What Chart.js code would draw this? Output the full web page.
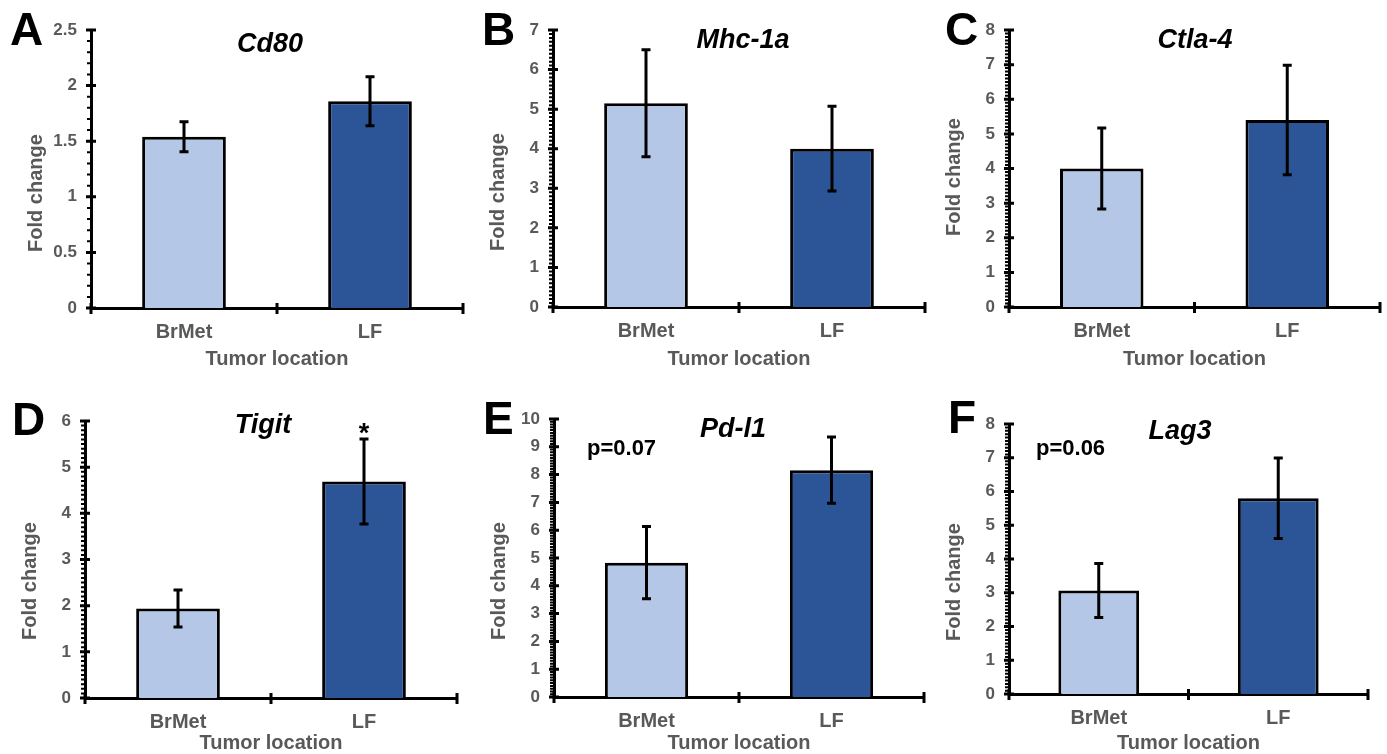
<!DOCTYPE html>
<html>
<head>
<meta charset="utf-8">
<script src="https://cdn.jsdelivr.net/npm/chart.js@4.4.1/dist/chart.umd.min.js"></script>
<style>
  html, body { margin: 0; padding: 0; background: #fff; }
  body { width: 1387px; height: 754px; position: relative; overflow: hidden; }
  canvas { position: absolute; }
</style>
</head>
<body>
<script>
// values
var categories = ["BrMet", "LF"];
var genes = ["Cd80", "Mhc-1a", "Ctla-4", "Tigit", "Pd-l1", "Lag3"];
var panelLetters = ["A", "B", "C", "D", "E", "F"];
var brmetMeans = [1.54, 5.15, 4.0, 1.94, 4.83, 3.07];
var brmetErrors = [0.135, 1.35, 1.17, 0.4, 1.3, 0.8];
var lfMeans = [1.86, 4.0, 5.4, 4.69, 8.16, 5.8];
var lfErrors = [0.22, 1.07, 1.58, 0.92, 1.19, 1.19];
var yMax = [2.5, 7, 8, 6, 10, 8];
var yStep = [0.5, 1, 1, 1, 1, 1];
var minorStep = 0.1;
var notes = ["", "", "", "*", "p=0.07", "p=0.06"];

var LIGHT = "#B4C7E7";
var DARK = "#2B5597";
var GRAY = "#595959";
var FONT = "'Liberation Sans', Arial, sans-serif";

// page position of each plot area (page pixels)
var layout = [
  { axisX: 91,   top: 30,  bottom: 308, right: 463,  letter: [10, 45],   title: [270, 52],   yTitleY: 193, xGap: 51 },
  { axisX: 553,  top: 30,  bottom: 307, right: 925,  letter: [482, 45],  title: [743, 48],   yTitleY: 192, xGap: 52 },
  { axisX: 1009, top: 30,  bottom: 307, right: 1380, letter: [945, 45],  title: [1195, 48],  yTitleY: 177, xGap: 52 },
  { axisX: 85,   top: 421, bottom: 698, right: 457,  letter: [12, 435],  title: [263, 433],  yTitleY: 581, xGap: 45 },
  { axisX: 554,  top: 419, bottom: 697, right: 924,  letter: [483, 434], title: [733, 437],  yTitleY: 581, xGap: 46, note: [587, 455] },
  { axisX: 1009, top: 424, bottom: 694, right: 1368, letter: [948, 433], title: [1180, 439], yTitleY: 582, xGap: 49, note: [1036, 455] }
];

var Y_WIDTH = 92;
var PAD_TOP = 30;
var PAD_RIGHT = 8;
var LINE = 3;

function makePanel(i) {
  var L = layout[i];
  var plotH = L.bottom - L.top;
  var xH = L.xGap + 14;
  var left = L.axisX - Y_WIDTH;
  var top = L.top - PAD_TOP;
  var canvas = document.createElement("canvas");
  canvas.width = L.right - L.axisX + Y_WIDTH + PAD_RIGHT;
  canvas.height = PAD_TOP + plotH + xH;
  canvas.style.left = left + "px";
  canvas.style.top = top + "px";
  document.body.appendChild(canvas);

  var means = [brmetMeans[i], lfMeans[i]];
  var errs = [brmetErrors[i], lfErrors[i]];

  // ticks, error bars and labels around the plot
  var extras = {
    id: "extras" + i,
    afterDatasetsDraw: function (chart) {
      var ctx = chart.ctx;
      var ys = chart.scales.y;
      var xs = chart.scales.x;
      var area = chart.chartArea;
      ctx.save();
      ctx.strokeStyle = "#000";
      ctx.lineWidth = LINE;
      ctx.lineCap = "butt";

      // error bars
      chart.getDatasetMeta(0).data.forEach(function (bar, j) {
        var hi = ys.getPixelForValue(means[j] + errs[j]);
        var lo = ys.getPixelForValue(means[j] - errs[j]);
        ctx.beginPath();
        ctx.moveTo(bar.x, hi); ctx.lineTo(bar.x, lo);
        ctx.moveTo(bar.x - 4.5, hi); ctx.lineTo(bar.x + 4.5, hi);
        ctx.moveTo(bar.x - 4.5, lo); ctx.lineTo(bar.x + 4.5, lo);
        ctx.stroke();
      });

      // y major ticks (cross) and minor ticks (outside)
      ctx.beginPath();
      ys.ticks.forEach(function (t) {
        var y = ys.getPixelForValue(t.value);
        ctx.moveTo(area.left - 5, y); ctx.lineTo(area.left + 5, y);
      });
      ctx.stroke();
      ctx.lineWidth = 2;
      ctx.beginPath();
      var n = Math.round(yMax[i] / minorStep);
      var per = Math.round(yStep[i] / minorStep);
      for (var k = 1; k < n; k++) {
        if (k % per === 0) continue;
        var ym = ys.getPixelForValue(k * minorStep);
        ctx.moveTo(area.left - 4, ym); ctx.lineTo(area.left, ym);
      }
      ctx.stroke();

      // x ticks at category edges
      ctx.lineWidth = LINE;
      var mid = (xs.getPixelForValue(0) + xs.getPixelForValue(1)) / 2;
      ctx.beginPath();
      [area.left, mid, area.right].forEach(function (x) {
        ctx.moveTo(x, area.bottom - 5); ctx.lineTo(x, area.bottom + 6);
      });
      ctx.stroke();

      // panel letter
      ctx.fillStyle = "#000";
      ctx.textAlign = "left";
      ctx.textBaseline = "alphabetic";
      ctx.font = "bold 46px " + FONT;
      ctx.fillText(panelLetters[i], L.letter[0] - left, L.letter[1] - top);

      // gene title
      ctx.textAlign = "center";
      ctx.font = "italic bold 27px " + FONT;
      ctx.fillText(genes[i], L.title[0] - left, L.title[1] - top);

      // y axis title
      ctx.save();
      ctx.translate(L.axisX - 55 - left, L.yTitleY - top);
      ctx.rotate(-Math.PI / 2);
      ctx.fillStyle = GRAY;
      ctx.textBaseline = "middle";
      ctx.font = "bold 20px " + FONT;
      ctx.fillText("Fold change", 0, 0);
      ctx.restore();

      // significance notes
      if (notes[i] === "*") {
        var lf = chart.getDatasetMeta(0).data[1];
        ctx.font = "bold 27px " + FONT;
        ctx.textAlign = "center";
        ctx.fillText(notes[i], lf.x, ys.getPixelForValue(means[1] + errs[1]) + 3);
      } else if (notes[i]) {
        ctx.font = "bold 22px " + FONT;
        ctx.textAlign = "left";
        ctx.fillText(notes[i], L.note[0] - left, L.note[1] - top);
      }
      ctx.restore();
    }
  };

  new Chart(canvas.getContext("2d"), {
    type: "bar",
    data: {
      labels: categories,
      datasets: [{
        data: means,
        backgroundColor: [LIGHT, DARK],
        borderColor: "#000",
        borderWidth: LINE,
        barPercentage: 0.45,
        categoryPercentage: 1
      }]
    },
    options: {
      responsive: false,
      animation: false,
      events: [],
      layout: { padding: { top: PAD_TOP, right: PAD_RIGHT, left: 0, bottom: 0 } },
      plugins: { legend: { display: false }, tooltip: { enabled: false }, title: { display: false } },
      scales: {
        x: {
          grid: { display: false, drawTicks: false },
          border: { display: true, color: "#000", width: LINE },
          ticks: { color: GRAY, font: { family: FONT, size: 20, weight: "bold" }, padding: 12 },
          title: {
            display: true, text: "Tumor location", color: GRAY,
            font: { family: FONT, size: 20, weight: "bold" },
            padding: { top: 0, bottom: 2 }
          },
          afterFit: function (s) { s.height = xH; }
        },
        y: {
          min: 0,
          max: yMax[i],
          grid: { display: false, drawTicks: false },
          border: { display: true, color: "#000", width: LINE },
          ticks: {
            stepSize: yStep[i], color: GRAY, padding: 14,
            font: { family: FONT, size: 17, weight: "bold" },
            callback: function (v) { return String(+v.toFixed(2)); }
          },
          afterFit: function (s) { s.width = Y_WIDTH; }
        }
      }
    },
    plugins: [extras]
  });
}

for (var i = 0; i < genes.length; i++) makePanel(i);
</script>
</body>
</html>
